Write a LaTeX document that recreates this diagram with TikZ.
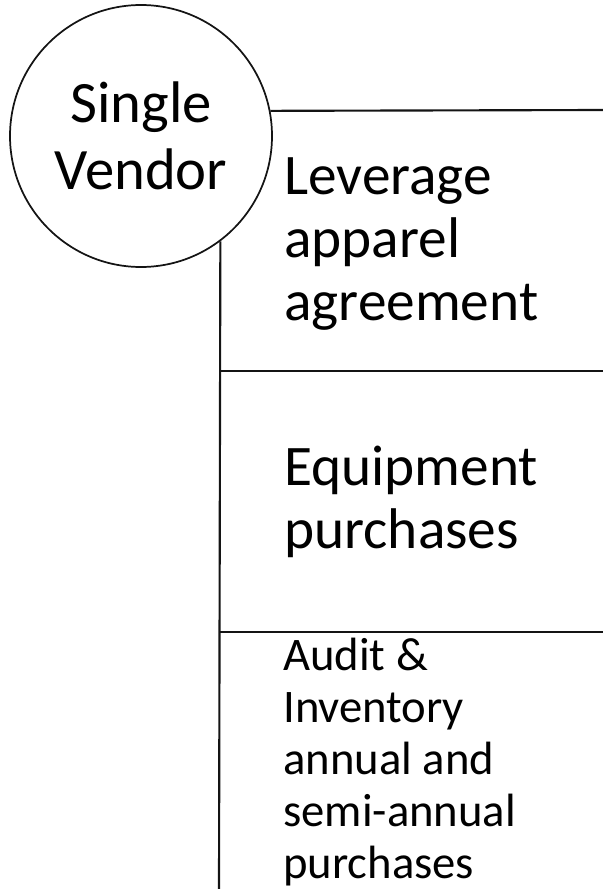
\documentclass[tikz,border=0pt]{standalone}
\usepackage{fontspec}
\setmainfont{Carlito}
\usetikzlibrary{positioning,calc}
\definecolor{SvInk}{RGB}{20,20,20}
\tikzset{
  sv/hub/.style={
    circle,
    draw=SvInk,
    line width=1.3pt,
    fill=white,
    align=center,
    inner sep=0pt,
    minimum size=196.5pt,
    font=\fontsize{44}{50}\selectfont
  },
  sv/rule/.style={draw=SvInk, line width=1.6pt},
  sv/item/.style={
    anchor=base west,
    align=left,
    inner sep=0pt,
    font=\fontsize{43}{47}\selectfont
  },
  sv/smallitem/.style={
    anchor=base west,
    align=left,
    inner sep=0pt,
    font=\fontsize{35}{39}\selectfont
  }
}

\begin{document}
\begin{tikzpicture}[x=0.75pt,y=-0.75pt]
  \useasboundingbox (0,0) rectangle (603,889);
  \node[sv/hub] (vendor) at (141,136) {Single\\Vendor};
  % branch lines
  \coordinate (rowtop) at (603,110);
  \coordinate (rowa) at (603,371);
  \coordinate (rowb) at (603,632);
  \coordinate (trunkend) at (219,889);
  \draw[sv/rule] (vendor.11.4) -- (rowtop);
  \draw[sv/rule] (vendor.-53.4) -- (trunkend);
  \draw[sv/rule] (rowa -| trunkend) -- (rowa);
  \draw[sv/rule] (rowb -| trunkend) -- (rowb);
  % row texts (anchored on the last line)
  \node[sv/item] (leverage) at (284,320) {Leverage\\apparel\\agreement};
  \node[sv/item] (equipment) at (284,548) {Equipment\\purchases};
  \node[sv/smallitem] (audit) at (283,878) {Audit \&\\Inventory\\annual and\\semi-annual\\purchases};
\end{tikzpicture}
\end{document}
